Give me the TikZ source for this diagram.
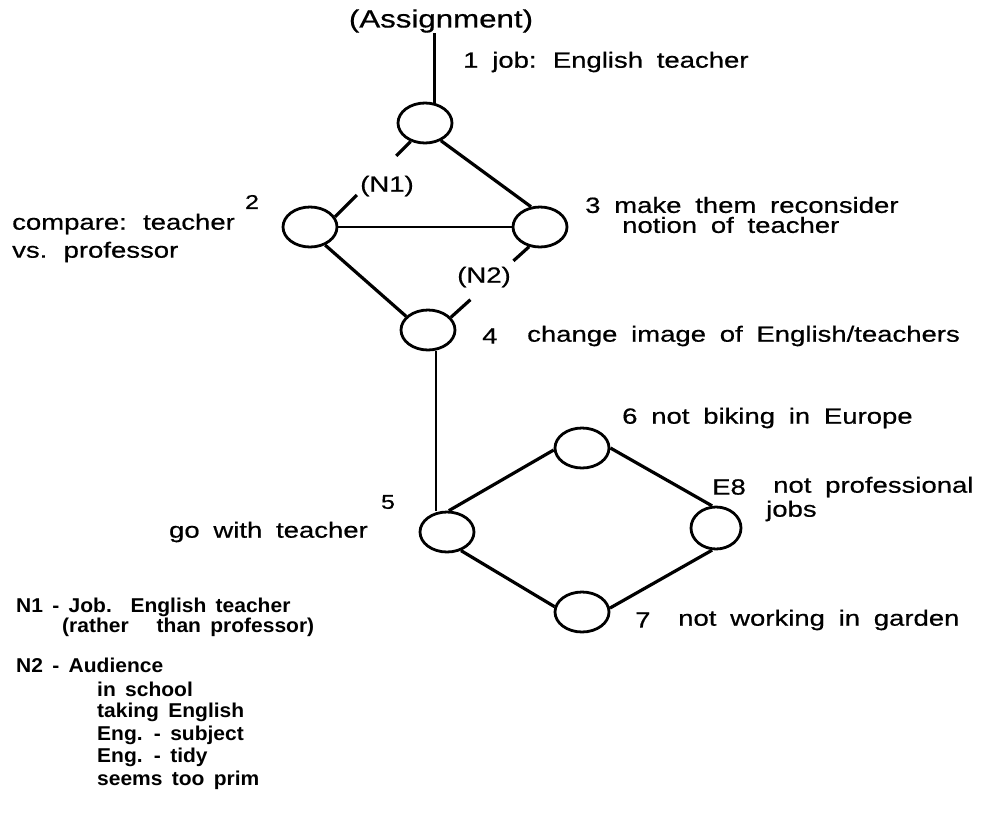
\documentclass[tikz,border=0pt]{standalone}
\usepackage{fontspec}
\setmainfont{Liberation Sans}[FakeStretch=1.25, WordSpace=1.8, FakeBold=0.6]
\newfontfamily\legfont{Liberation Sans}[FakeStretch=1.05, WordSpace=1.6]
\usetikzlibrary{shapes.geometric}
\tikzset{
  circ/.style={draw, ellipse, line width=2.8pt, minimum width=54pt, minimum height=40pt, inner sep=0pt},
  edge/.style={line width=3.2pt},
  thinedge/.style={line width=2.2pt},
  lbl/.style={inner sep=0pt, font=\fontsize{22}{24}\selectfont},
  leg/.style={inner sep=0pt, anchor=west, font=\legfont\bfseries\fontsize{20}{22}\selectfont},
}
\begin{document}
\begin{tikzpicture}[x=1pt,y=-1pt]
\useasboundingbox (0,0) rectangle (987,814);
% nodes
\node[circ] (n1) at (425,123) {};
\node[circ] (n2) at (310,227) {};
\node[circ] (n3) at (540,227) {};
\node[circ] (n4) at (428,330) {};
\node[circ] (n5) at (447,532) {};
\node[circ] (n6) at (582,448) {};
\node[circ, minimum width=50pt, minimum height=42pt] (e8) at (716,528) {};
\node[circ] (n7) at (582,612) {};
% labels
\node[lbl, font=\fontsize{25}{27}\selectfont] (assign) at (441,21) {(Assignment)};
\node[lbl, anchor=west] (t1) at (463,62) {1 job: English teacher};
\node[lbl, font=\fontsize{20}{22}\selectfont] (t2n) at (252,202) {2};
\node[lbl, anchor=west] (t2a) at (12,224) {compare: teacher};
\node[lbl, anchor=west] (t2b) at (12,252) {vs. professor};
\node[lbl, anchor=west] (t3a) at (585,205) {3\ make them reconsider};
\node[lbl, anchor=west] (t3b) at (622,225) {notion of teacher};
\node[lbl] (N1) at (387,186) {(N1)};
\node[lbl] (N2) at (484,277) {(N2)};
\node[lbl, anchor=west] (t4n) at (482,336) {4};
\node[lbl, anchor=west] (t4) at (527,336) {change image of English/teachers};
\node[lbl, font=\fontsize{20}{22}\selectfont] (t5n) at (388,502) {5};
\node[lbl, anchor=east] (t5) at (368,532) {go with teacher};
\node[lbl, anchor=west] (t6) at (622,418) {6 not biking in Europe};
\node[lbl, anchor=west] (t8n) at (712,487) {E8};
\node[lbl, anchor=west] (t8a) at (773,487) {not professional};
\node[lbl, anchor=west] (t8b) at (766,511) {jobs};
\node[lbl, anchor=west] (t7n) at (635,620) {7};
\node[lbl, anchor=west] (t7) at (678,620) {not working in garden};
% legend
\node[leg] (l1) at (16,607) {N1 - Job.\ \ English teacher};
\node[leg] (l2) at (62,627) {(rather\ \ \ than professor)};
\node[leg] (l3) at (16,665) {N2 - Audience};
\node[leg] (l4) at (97,689) {in school};
\node[leg] (l5) at (97,712) {taking English};
\node[leg] (l6) at (97,735) {Eng. - subject};
\node[leg] (l7) at (97,757) {Eng. - tidy};
\node[leg] (l8) at (97,780) {seems too prim};
% connectors
\draw[edge] (n1.65) -- (n1.65 |- assign.south);
\path (n1.232) -- (n2.22) coordinate[pos=0.19] (a1) coordinate[pos=0.71] (a2);
\draw[edge] (n1.232) -- (a1);
\draw[edge] (a2) -- (n2.22);
\draw[edge] (n1.312) -- (n3.114);
\draw[thinedge] (n2.east) -- (n3.west);
\draw[edge] (n2.310) -- (n4.148);
\path (n3.241) -- (n4.29) coordinate[pos=0.2] (b1) coordinate[pos=0.75] (b2);
\draw[edge] (n3.241) -- (b1);
\draw[edge] (b2) -- (n4.29);
\draw[thinedge, line width=2.6pt] (n4.south -| 436,0) -- (n5.north -| 436,0);
\draw[edge] (n5.85) -- (n6.184);
\draw[edge] (n5.307) -- (n7.169);
\draw[edge] (n6.0) -- (e8.100);
\draw[edge] (e8.260) -- (n7.8);
\end{tikzpicture}
\end{document}
